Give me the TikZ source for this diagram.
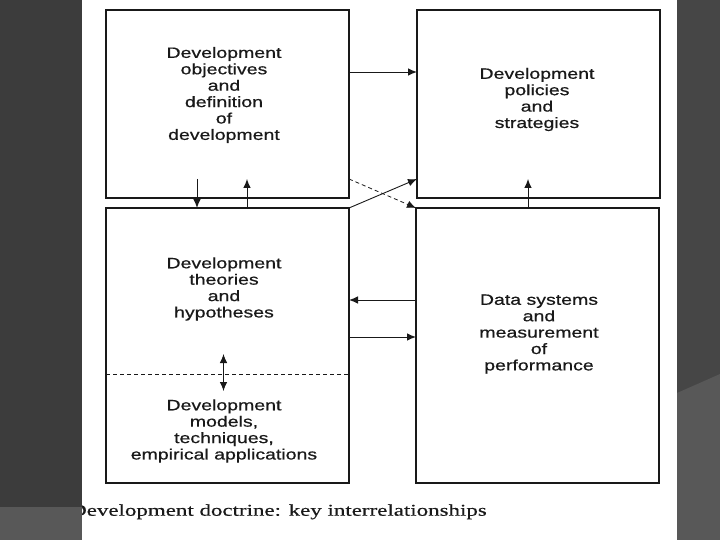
\documentclass[tikz,border=0pt]{standalone}
\usepackage{fontspec}
\usepackage{tikz}
\usetikzlibrary{arrows.meta, positioning}
\newfontfamily\boxfont[FakeStretch=1.3, FakeBold=0.6]{Liberation Sans}
\newfontfamily\capfont[FakeStretch=1.39, FakeBold=0.4]{Liberation Serif}
\definecolor{bgdark}{RGB}{60,60,60}
\definecolor{bgright}{RGB}{70,70,70}
\definecolor{bglight}{RGB}{88,88,88}
\definecolor{ink}{RGB}{25,25,25}

\begin{document}
\begin{tikzpicture}[x=1pt, y=-1pt,
  box/.style={
    rectangle, draw=ink, line width=1.2pt,
    minimum width=243pt, inner sep=0pt, outer sep=0pt
  },
  lbl/.style={
    align=center, text=ink, inner sep=0pt,
    font=\boxfont\fontsize{15}{16.4}\selectfont
  },
  captext/.style={inner sep=0pt, text=ink, font=\capfont\fontsize{16.5}{18}\selectfont},
  arr/.style={-{Latex[length=9pt,width=7.5pt]}, line width=0.9pt, draw=ink},
  dbl/.style={{Latex[length=9pt,width=7.5pt]}-{Latex[length=9pt,width=7.5pt]}, line width=0.9pt, draw=ink},
  dsh/.style={dash pattern=on 4pt off 3pt, line width=0.8pt, draw=ink}
]
  \useasboundingbox (0,0) rectangle (720,540);
  % slide background
  \fill[bgright] (0,0) rectangle (720,540);
  \fill[bglight] (677,393) -- (720,374) -- (720,540) -- (677,540) -- cycle;
  \fill[white] (82,0) rectangle (677,540);

  % the four boxes
  \node[box, minimum height=188pt] (tl) at (227.5,104) {};
  \node[box, minimum height=188pt, right=68pt of tl] (tr) {};
  \node[box, minimum height=275pt, below=10pt of tl] (bl) {};
  \node[box, minimum height=275pt, right=67pt of bl] (br) {};
  \draw[dsh] ([yshift=-28.5pt]bl.west) -- ([yshift=-28.5pt]bl.east);

  % texts
  \node[lbl] (tlt) at ([xshift=-3.5pt,yshift=9pt]tl.center)
    {Development\\objectives\\and\\definition\\of\\development};
  \node[lbl] (trt) at ([xshift=-1.5pt,yshift=4.5pt]tr.center)
    {Development\\policies\\and\\strategies};
  \node[lbl] (blt) at ([xshift=-3.5pt,yshift=56.5pt]bl.center)
    {Development\\theories\\and\\hypotheses};
  \node[lbl] (blm) at ([xshift=-3.5pt,yshift=-85.5pt]bl.center)
    {Development\\models,\\techniques,\\empirical applications};
  \node[lbl] (brt) at ([xshift=1.5pt,yshift=11.5pt]br.center)
    {Data systems\\and\\measurement\\of\\performance};

  % connectors
  \draw[arr] ([yshift=32pt]tl.east) -- ([yshift=32pt]tr.west);
  \draw[arr] ([yshift=45.5pt]br.west) -- ([yshift=45.5pt]bl.east);
  \draw[arr] ([yshift=8.5pt]bl.east) -- ([yshift=8.5pt]br.west);
  \draw[arr] ([xshift=-30.5pt,yshift=19pt]tl.south) -- ([xshift=-30.5pt]bl.north);
  \draw[arr] ([xshift=19.5pt]bl.north) -- ([xshift=19.5pt,yshift=19pt]tl.south);
  \draw[arr] ([xshift=-9.5pt]br.north) -- ([xshift=-10.5pt,yshift=19pt]tr.south);
  \draw[arr] (bl.north east) -- ([yshift=19pt]tr.south west);
  \draw[arr, dsh] ([yshift=19pt]tl.south east) -- (br.north west);
  \draw[dbl] ([xshift=-4pt,yshift=-8.5pt]bl.center) -- ([xshift=-4pt,yshift=-45.5pt]bl.center);

  % caption
  \node[captext, anchor=base west] (caption) at (70,515.7)
    {Development doctrine: key interrelationships};
  \fill[bgdark] (0,0) rectangle (82,507);
  \fill[bglight] (0,507) rectangle (82,540);
\end{tikzpicture}
\end{document}
